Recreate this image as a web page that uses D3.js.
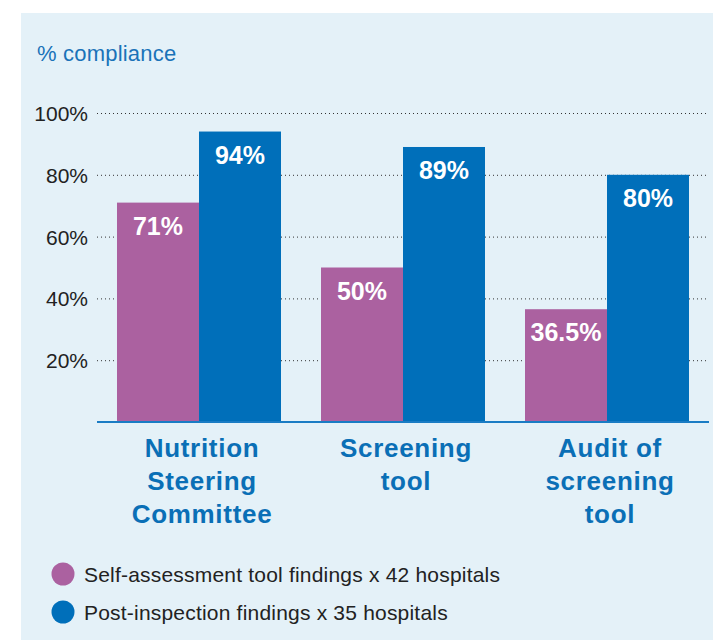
<!DOCTYPE html>
<html>
<head>
<meta charset="utf-8">
<style>
body { margin: 0; background: #fff; }
svg { display: block; font-family: "Liberation Sans", Arial, sans-serif; }
</style>
</head>
<body>
<svg width="713" height="640"></svg>
<script src="https://d3js.org/d3.v7.min.js"></script>
<script>
// data
var categories = [["Nutrition", "Steering", "Committee"], ["Screening", "tool"], ["Audit of", "screening", "tool"]];
var seriesNames = ["Self-assessment tool findings x 42 hospitals", "Post-inspection findings x 35 hospitals"];
var selfAssessment = [71, 50, 36.5];
var postInspection = [94, 89, 80];
var yTicks = [20, 40, 60, 80, 100];
var colors = ["#ab61a0", "#006fba"];

var svg = d3.select("svg"),
    width = +svg.attr("width"),
    height = +svg.attr("height");

// panel background
svg.append("rect")
    .attr("x", 21).attr("y", 13)
    .attr("width", width - 21).attr("height", height - 13)
    .attr("fill", "#e4f1f8");

var x0 = d3.scaleBand()
    .domain(d3.range(categories.length))
    .range([97, 709])
    .paddingInner(0.1961)
    .paddingOuter(0.098);

var x1 = d3.scaleBand()
    .domain([0, 1])
    .range([0, x0.bandwidth()]);

var y = d3.scaleLinear()
    .domain([0, 100])
    .range([422, 113]);

// y title
svg.append("text")
    .attr("x", 37).attr("y", 61)
    .attr("fill", "#1a73b8")
    .attr("font-size", 22)
    .attr("letter-spacing", 0.2)
    .text("% compliance");

// gridlines
svg.append("g").selectAll("line")
  .data(yTicks)
  .enter().append("line")
    .attr("x1", 97).attr("x2", 709)
    .attr("y1", function(d) { return y(d) + 0.5; })
    .attr("y2", function(d) { return y(d) + 0.5; })
    .attr("stroke", "#333")
    .attr("stroke-width", 1)
    .attr("stroke-dasharray", "1,3");

svg.append("g").selectAll("text")
  .data(yTicks)
  .enter().append("text")
    .attr("x", 88)
    .attr("y", function(d) { return y(d) + 8; })
    .attr("text-anchor", "end")
    .attr("fill", "#222")
    .attr("font-size", 21)
    .text(function(d) { return d + "%"; });

// bars
var rows = categories.map(function(c, i) { return [selfAssessment[i], postInspection[i]]; });

var groups = svg.append("g").selectAll("g")
  .data(rows)
  .enter().append("g")
    .attr("transform", function(d, i) { return "translate(" + x0(i) + ",0)"; });

groups.selectAll("rect")
  .data(function(d) { return d; })
  .enter().append("rect")
    .attr("x", function(d, j) { return x1(j); })
    .attr("y", function(d) { return y(d); })
    .attr("width", x1.bandwidth())
    .attr("height", function(d) { return y(0) - y(d); })
    .attr("fill", function(d, j) { return colors[j]; });

groups.selectAll("text")
  .data(function(d) { return d; })
  .enter().append("text")
    .attr("x", function(d, j) { return x1(j) + x1.bandwidth() / 2; })
    .attr("y", function(d) { return y(d) + 32; })
    .attr("text-anchor", "middle")
    .attr("fill", "#fff")
    .attr("font-weight", "bold")
    .attr("font-size", 25)
    .text(function(d) { return d + "%"; });

// baseline
svg.append("line")
    .attr("x1", 97).attr("x2", 709)
    .attr("y1", y(0)).attr("y2", y(0))
    .attr("stroke", "#1a7cc4")
    .attr("stroke-width", 2);

// category labels
var catLabels = svg.append("g").selectAll("text")
  .data(categories)
  .enter().append("text")
    .attr("text-anchor", "middle")
    .attr("fill", "#0a6fb6")
    .attr("font-weight", "bold")
    .attr("font-size", 26)
    .attr("letter-spacing", 0.7);

catLabels.selectAll("tspan")
  .data(function(d, i) { return d.map(function(s) { return {s: s, i: i}; }); })
  .enter().append("tspan")
    .attr("x", function(d) { return x0(d.i) + x0.bandwidth() / 2 + 3; })
    .attr("y", function(d, k) { return 457 + k * 33; })
    .text(function(d) { return d.s; });

// legend
var legend = svg.append("g").selectAll("g")
  .data(seriesNames)
  .enter().append("g")
    .attr("transform", function(d, i) { return "translate(63," + (574 + i * 38) + ")"; });

legend.append("circle")
    .attr("r", 11.5)
    .attr("fill", function(d, i) { return colors[i]; });

legend.append("text")
    .attr("x", 21)
    .attr("y", 7.5)
    .attr("fill", "#222")
    .attr("font-size", 21)
    .attr("letter-spacing", 0.2)
    .text(function(d) { return d; });
</script>
</body>
</html>
